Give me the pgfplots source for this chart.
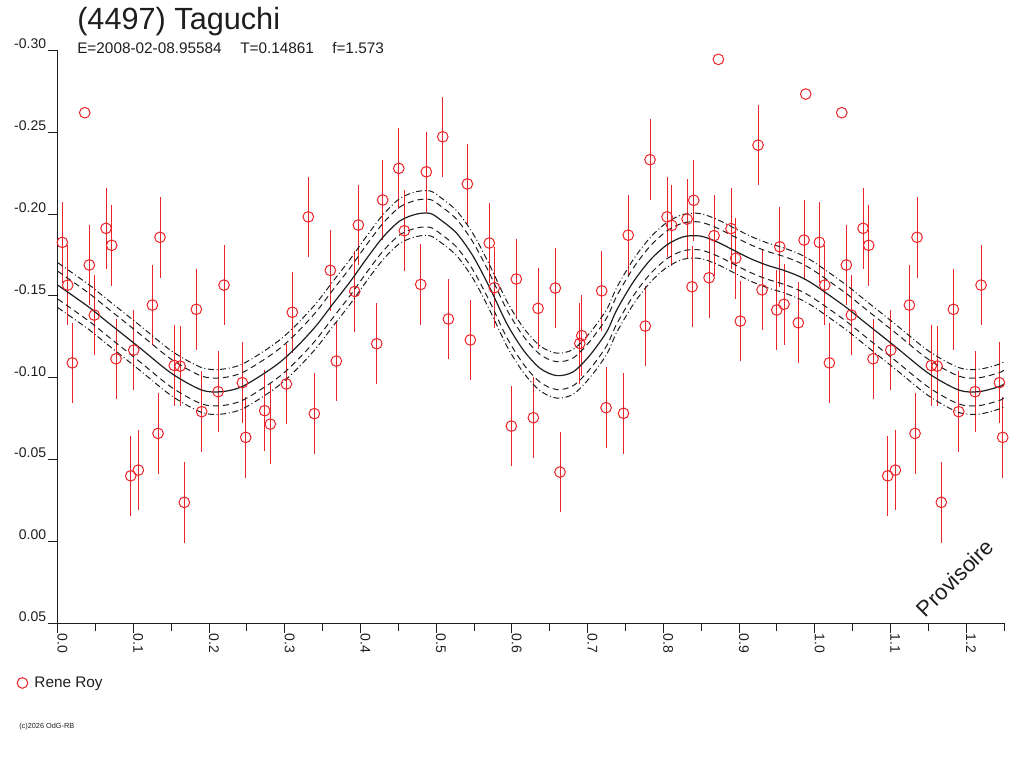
\documentclass[border=0pt]{standalone}
\usepackage{pgfplots}
\pgfplotsset{compat=1.18}
\usepackage{pgfplotstable}
\usepackage{fontspec}
\setmainfont{Liberation Sans}
\definecolor{obsred}{RGB}{235,35,40}
\definecolor{ink}{RGB}{30,30,30}

\pgfplotstableread{
x y e
0.0061 -0.1827 0.0246
0.0132 -0.1566 0.0246
0.0193 -0.1091 0.0246
0.0417 -0.1689 0.0246
0.0483 -0.1383 0.0246
0.0638 -0.1913 0.0246
0.0713 -0.1809 0.0246
0.0770 -0.1116 0.0246
0.0964 -0.0401 0.0246
0.1004 -0.1169 0.0246
0.1065 -0.0436 0.0246
0.1250 -0.1444 0.0246
0.1325 -0.0660 0.0246
0.1351 -0.1858 0.0246
0.1540 -0.1075 0.0246
0.1616 -0.1071 0.0246
0.1672 -0.0239 0.0246
0.1831 -0.1418 0.0246
0.1902 -0.0793 0.0246
0.2118 -0.0915 0.0246
0.2197 -0.1566 0.0246
0.2439 -0.0970 0.0246
0.2483 -0.0636 0.0246
0.2734 -0.0799 0.0246
0.2808 -0.0717 0.0246
0.3020 -0.0962 0.0246
0.3099 -0.1400 0.0246
0.3310 -0.1983 0.0246
0.3390 -0.0781 0.0246
0.3601 -0.1656 0.0246
0.3680 -0.1102 0.0246
0.3923 -0.1527 0.0246
0.3971 -0.1933 0.0246
0.4214 -0.1208 0.0246
0.4293 -0.2086 0.0246
0.4505 -0.2279 0.0246
0.4579 -0.1898 0.0246
0.4795 -0.1570 0.0246
0.4869 -0.2258 0.0246
0.5086 -0.2472 0.0246
0.5160 -0.1359 0.0246
0.5411 -0.2184 0.0246
0.5450 -0.1231 0.0246
0.5701 -0.1823 0.0246
0.5768 -0.1550 0.0246
0.5992 -0.0705 0.0246
0.6058 -0.1603 0.0246
0.6283 -0.0756 0.0246
0.6345 -0.1424 0.0246
0.6573 -0.1548 0.0246
0.6635 -0.0424 0.0246
0.6896 -0.1210 0.0246
0.6922 -0.1257 0.0246
0.7186 -0.1531 0.0246
0.7243 -0.0817 0.0246
0.7474 -0.0783 0.0246
0.7536 -0.1871 0.0246
0.7762 -0.1316 0.0246
0.7824 -0.2332 0.0246
0.8049 -0.1983 0.0246
0.8111 -0.1931 0.0246
0.8313 -0.1969 0.0246
0.8379 -0.1556 0.0246
0.8402 -0.2084 0.0246
0.8604 -0.1611 0.0246
0.8670 -0.1868 0.0246
0.8894 -0.1911 0.0246
0.8956 -0.1730 0.0246
0.9017 -0.1346 0.0246
0.9251 -0.2421 0.0246
0.9304 -0.1537 0.0246
0.9498 -0.1414 0.0246
0.9538 -0.1800 0.0246
0.9594 -0.1449 0.0246
0.9783 -0.1336 0.0246
0.9859 -0.1841 0.0246
1.0061 -0.1827 0.0246
1.0132 -0.1566 0.0246
1.0193 -0.1091 0.0246
1.0417 -0.1689 0.0246
1.0483 -0.1383 0.0246
1.0638 -0.1913 0.0246
1.0713 -0.1809 0.0246
1.0770 -0.1116 0.0246
1.0964 -0.0401 0.0246
1.1004 -0.1169 0.0246
1.1065 -0.0436 0.0246
1.1250 -0.1444 0.0246
1.1325 -0.0660 0.0246
1.1351 -0.1858 0.0246
1.1540 -0.1075 0.0246
1.1616 -0.1071 0.0246
1.1672 -0.0239 0.0246
1.1831 -0.1418 0.0246
1.1902 -0.0793 0.0246
1.2118 -0.0915 0.0246
1.2197 -0.1566 0.0246
1.2439 -0.0970 0.0246
1.2483 -0.0636 0.0246
}\obsdata

\pgfplotstableread{
x y
0.0357 -0.2619
0.8727 -0.2945
0.9881 -0.2733
1.0357 -0.2619
}\outliers

\pgfplotstableread{
x m u2 u1 l1 l2
0.0000 -0.1566 -0.1703 -0.1651 -0.1481 -0.1429
0.0404 -0.1434 -0.1571 -0.1519 -0.1349 -0.1297
0.0625 -0.1352 -0.1489 -0.1437 -0.1267 -0.1215
0.1065 -0.1190 -0.1327 -0.1275 -0.1105 -0.1053
0.1506 -0.1026 -0.1163 -0.1111 -0.0941 -0.0889
0.1902 -0.0925 -0.1062 -0.1010 -0.0840 -0.0788
0.2166 -0.0915 -0.1052 -0.1000 -0.0830 -0.0778
0.2431 -0.0945 -0.1082 -0.1030 -0.0860 -0.0808
0.2761 -0.1037 -0.1174 -0.1122 -0.0952 -0.0900
0.2980 -0.1112 -0.1249 -0.1197 -0.1027 -0.0975
0.3201 -0.1210 -0.1347 -0.1295 -0.1125 -0.1073
0.3421 -0.1322 -0.1459 -0.1407 -0.1237 -0.1185
0.3641 -0.1455 -0.1592 -0.1540 -0.1370 -0.1318
0.3861 -0.1586 -0.1723 -0.1671 -0.1501 -0.1449
0.4082 -0.1729 -0.1866 -0.1814 -0.1644 -0.1592
0.4301 -0.1861 -0.1998 -0.1946 -0.1776 -0.1724
0.4522 -0.1959 -0.2096 -0.2044 -0.1874 -0.1822
0.4742 -0.2000 -0.2137 -0.2085 -0.1915 -0.1863
0.4918 -0.2004 -0.2141 -0.2089 -0.1919 -0.1867
0.5050 -0.1967 -0.2104 -0.2052 -0.1882 -0.1830
0.5271 -0.1882 -0.2019 -0.1967 -0.1797 -0.1745
0.5490 -0.1740 -0.1877 -0.1825 -0.1655 -0.1603
0.5711 -0.1546 -0.1683 -0.1631 -0.1461 -0.1409
0.5931 -0.1332 -0.1469 -0.1417 -0.1247 -0.1195
0.6151 -0.1169 -0.1306 -0.1254 -0.1084 -0.1032
0.6371 -0.1058 -0.1195 -0.1143 -0.0973 -0.0921
0.6592 -0.1013 -0.1150 -0.1098 -0.0928 -0.0876
0.6811 -0.1037 -0.1174 -0.1122 -0.0952 -0.0900
0.7032 -0.1139 -0.1276 -0.1224 -0.1054 -0.1002
0.7252 -0.1281 -0.1418 -0.1366 -0.1196 -0.1144
0.7384 -0.1414 -0.1551 -0.1499 -0.1329 -0.1277
0.7604 -0.1586 -0.1723 -0.1671 -0.1501 -0.1449
0.7824 -0.1718 -0.1855 -0.1803 -0.1633 -0.1581
0.8045 -0.1811 -0.1948 -0.1896 -0.1726 -0.1674
0.8264 -0.1861 -0.1998 -0.1946 -0.1776 -0.1724
0.8485 -0.1866 -0.2003 -0.1951 -0.1781 -0.1729
0.8705 -0.1831 -0.1968 -0.1916 -0.1746 -0.1694
0.8925 -0.1780 -0.1917 -0.1865 -0.1695 -0.1643
0.9145 -0.1729 -0.1866 -0.1814 -0.1644 -0.1592
0.9366 -0.1688 -0.1825 -0.1773 -0.1603 -0.1551
0.9585 -0.1657 -0.1794 -0.1742 -0.1572 -0.1520
0.9806 -0.1617 -0.1754 -0.1702 -0.1532 -0.1480
1.0000 -0.1566 -0.1703 -0.1651 -0.1481 -0.1429
1.0404 -0.1434 -0.1571 -0.1519 -0.1349 -0.1297
1.0625 -0.1352 -0.1489 -0.1437 -0.1267 -0.1215
1.1065 -0.1190 -0.1327 -0.1275 -0.1105 -0.1053
1.1506 -0.1026 -0.1163 -0.1111 -0.0941 -0.0889
1.1902 -0.0925 -0.1062 -0.1010 -0.0840 -0.0788
1.2166 -0.0915 -0.1052 -0.1000 -0.0830 -0.0778
1.2431 -0.0945 -0.1082 -0.1030 -0.0860 -0.0808
1.2500 -0.0962 -0.1099 -0.1047 -0.0877 -0.0825
}\fit

\begin{document}
\begin{tikzpicture}
\useasboundingbox (0pt,0pt) rectangle (768pt,576pt);
\begin{axis}[
  at={(43.3pt,108.5pt)}, anchor=south west,
  scale only axis, width=709.7pt, height=429.75pt,
  xmin=0, xmax=1.25, ymin=-0.30, ymax=0.05, y dir=reverse,
  axis x line*=bottom, axis y line*=left,
  axis line style={ink, line width=0.75pt},
  clip=false,
  tick align=outside,
  major tick length=7.5pt, minor tick length=6pt,
  tick style={ink, line width=0.75pt},
  xtick={0,0.1,0.2,0.3,0.4,0.5,0.6,0.7,0.8,0.9,1.0,1.1,1.2},
  xticklabels={0.0,0.1,0.2,0.3,0.4,0.5,0.6,0.7,0.8,0.9,1.0,1.1,1.2},
  minor xtick={0.05,0.15,0.25,0.35,0.45,0.55,0.65,0.75,0.85,0.95,1.05,1.15,1.25},
  ytick={-0.30,-0.25,-0.20,-0.15,-0.10,-0.05,0.00,0.05},
  yticklabels={-0.30,-0.25,-0.20,-0.15,-0.10,-0.05,0.00,0.05},
  tick label style={font=\fontsize{10.5}{12}\selectfont, text=ink},
  xticklabel style={rotate=-90, anchor=base west, inner sep=0pt},
  yticklabel style={anchor=south east, inner sep=1pt},
  legend style={at={(axis description cs:-0.0432,-0.1041)}, anchor=west,
    draw=none, fill=none, inner sep=0pt, font=\fontsize{11.5}{13}\selectfont, text=ink},
  legend cell align=left,
]
\addplot[obsred, line width=0.75pt, only marks, mark=o, mark size=4pt,
  error bars/.cd, y dir=both, y explicit, error mark=none,
  error bar style={obsred, line width=0.75pt}]
  table[x=x, y=y, y error=e]{\obsdata};
\addlegendentry{\hspace{3pt}Rene Roy}
\addplot[obsred, line width=0.75pt, only marks, mark=o, mark size=4pt, forget plot]
  table[x=x, y=y]{\outliers};
\addplot[ink, line width=0.9pt, smooth, forget plot] table[x=x, y=m]{\fit};
\addplot[ink, line width=0.75pt, dash pattern=on 4.5pt off 3pt, smooth, forget plot] table[x=x, y=u1]{\fit};
\addplot[ink, line width=0.75pt, dash pattern=on 4.5pt off 3pt, smooth, forget plot] table[x=x, y=l1]{\fit};
\addplot[ink, line width=0.75pt, dash pattern=on 4.5pt off 2pt on 0.75pt off 2pt, smooth, forget plot] table[x=x, y=u2]{\fit};
\addplot[ink, line width=0.75pt, dash pattern=on 4.5pt off 2pt on 0.75pt off 2pt, smooth, forget plot] table[x=x, y=l2]{\fit};
\end{axis}
\node[anchor=base west, inner sep=0pt, text=ink, font=\fontsize{23}{26}\selectfont] at (57.75pt,553.5pt) {(4497) Taguchi};
\node[anchor=base west, inner sep=0pt, text=ink, font=\fontsize{11.5}{13}\selectfont] at (57.75pt,535.5pt) {E=2008-02-08.95584};
\node[anchor=base west, inner sep=0pt, text=ink, font=\fontsize{11.5}{13}\selectfont] at (180pt,535.5pt) {T=0.14861};
\node[anchor=base west, inner sep=0pt, text=ink, font=\fontsize{11.5}{13}\selectfont] at (249pt,535.5pt) {f=1.573};
\node[anchor=base west, inner sep=0pt, text=ink, font=\fontsize{5.5}{6}\selectfont] at (14.25pt,30pt) {(c)2026 OdG-RB};
\node[rotate=45, inner sep=0pt, text=ink, font=\fontsize{16.5}{18}\selectfont] at (716.25pt,142.5pt) {Provisoire};
\end{tikzpicture}
\end{document}
